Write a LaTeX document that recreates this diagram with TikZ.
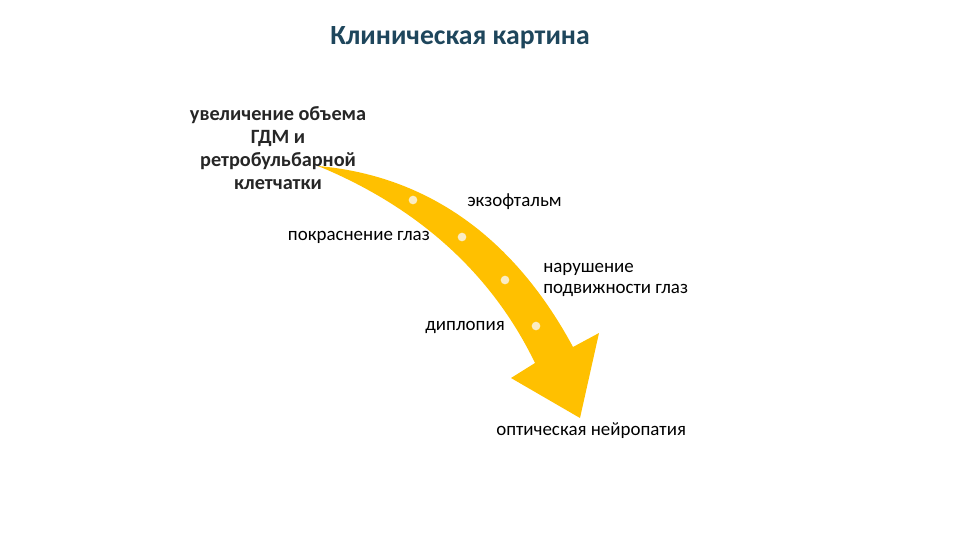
\documentclass[tikz,border=0pt]{standalone}
\usepackage{fontspec}
\setmainfont{Carlito}
\usetikzlibrary{positioning}
\definecolor{titlecolor}{RGB}{30,70,92}
\definecolor{arrowcolor}{RGB}{255,192,0}
\definecolor{dotcolor}{RGB}{250,236,196}

\begin{document}
\begin{tikzpicture}[%
    x=0.75pt, y=-0.75pt,        % pixel grid of the slide
    ]
\tikzset{
  title/.style={font=\fontsize{20.8}{25}\selectfont\bfseries, text=titlecolor, inner sep=0pt},
  cause/.style={font=\fontsize{15.2}{17.4}\selectfont\bfseries, text=black!85, align=center, inner sep=0pt},
  sign/.style={font=\fontsize{14.2}{15.8}\selectfont, align=left, inner sep=0pt},
  dot/.style={circle, fill=dotcolor, minimum size=6.5pt, inner sep=0pt},
}
\useasboundingbox (0,0) rectangle (960,540);

\node [title] (t0) at (460,38) {Клиническая картина};

% curved arrow
\fill [arrowcolor] (318,166) .. controls (420,175) and (510,230) .. (573,347)
  -- (599,333) -- (580,418) -- (511,378) -- (535,363)
  .. controls (495,280) and (425,210) .. (318,166) -- cycle;

\node [dot] (d1) at (413,200) {};
\node [dot] (d2) at (462,237) {};
\node [dot] (d3) at (505,280) {};
\node [dot] (d4) at (536,326) {};

\node [cause] (c0) at (278,148) {увеличение объема\\ГДМ и\\ретробульбарной\\клетчатки};
\node [sign,anchor=west] (s1) at (467,202) {экзофтальм};
\node [sign,anchor=east] (s2) at (430,237) {покраснение глаз};
\node [sign,anchor=west] (s3) at (543,280) {нарушение\\подвижности глаз};
\node [sign,anchor=east] (s4) at (505,327) {диплопия};
\node [sign,anchor=west] (s5) at (496,431) {оптическая нейропатия};
\end{tikzpicture}
\end{document}
